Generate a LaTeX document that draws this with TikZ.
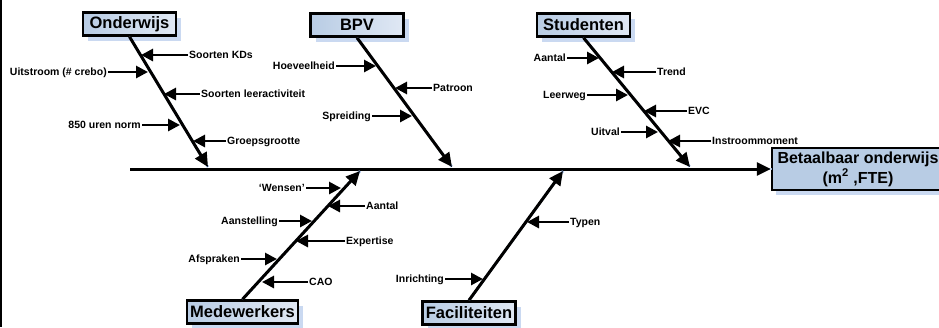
\documentclass[tikz,border=0pt]{standalone}
\usepackage{fontspec}
\setmainfont{Liberation Sans}
\usetikzlibrary{arrows.meta}
\usetikzlibrary{shadows}

\definecolor{boxblue}{RGB}{184,204,228}
\definecolor{boxlight}{RGB}{224,232,244}
\definecolor{shadeblue}{RGB}{150,180,228}

\tikzset{
    cause/.style={draw, line width=2.5pt, left color=boxblue, right color=boxlight,
        font=\bfseries\fontsize{16.5}{18}\selectfont, minimum width=93pt,
        minimum height=23pt, inner xsep=3pt, inner ysep=0pt,
        drop shadow={shadow xshift=5pt, shadow yshift=-5pt, fill=shadeblue, opacity=0.5}},
    effect/.style={draw, line width=2.5pt, fill=boxblue, align=center,
        font=\bfseries\fontsize{16}{20}\selectfont, minimum width=172pt,
        minimum height=42pt, inner xsep=2pt,
        drop shadow={shadow xshift=4pt, shadow yshift=-5pt, fill=shadeblue, opacity=0.5}},
    bone/.style={line width=3pt, -{Triangle[length=14pt,width=13pt]}},
    sub/.style={line width=2.8pt, -{Triangle[length=12pt,width=12pt]}},
    lbl/.style={font=\bfseries\fontsize{10.5}{12}\selectfont, inner sep=1pt,
        text height=7.5pt, text depth=0pt},
    ghost/.style={draw=shadeblue, line width=2.5pt, densely dotted}
}

\begin{document}
\begin{tikzpicture}[x=1pt,y=-1pt]

    \useasboundingbox (0,0) rectangle (939,327);
    \clip (0,0) rectangle (939,327);

    \draw[line width=2pt] (1,0) -- (1,327);

    % effect and spine

    \node[effect] (result) at (858,169) {Betaalbaar onderwijs\\(m\textsuperscript{2} ,FTE)};
    \coordinate (tail) at (130,169);

    \draw[ghost, shift={(3,6)}] (tail) -- (result.west);
    \draw[bone] (tail) -- (result.west);

    % Onderwijs

    \node[cause] (onderwijs) at (129.5,24) {Onderwijs};
    \coordinate (o-end) at (208,167);
    \draw[ghost, shift={(4,3)}] (onderwijs.south) -- (o-end);
    \draw[bone] (onderwijs.south) -- (o-end);

    \node[lbl, anchor=west] (kds) at (188,55) {Soorten KDs};
    \coordinate (t-kds) at (141,55);
    \draw[sub] (kds) -- (t-kds);

    \node[lbl, anchor=east] (uitstroom) at (108,72) {Uitstroom (\# crebo)};
    \coordinate (t-uitstroom) at (148,72);
    \draw[sub] (uitstroom) -- (t-uitstroom);

    \node[lbl, anchor=west] (leeract) at (200,94) {Soorten leeractiviteit};
    \coordinate (t-leeract) at (164,94);
    \draw[sub] (leeract) -- (t-leeract);

    \node[lbl, anchor=east] (norm) at (142,125) {850 uren norm};
    \coordinate (t-norm) at (180,125);
    \draw[sub] (norm) -- (t-norm);

    \node[lbl, anchor=west] (groep) at (226,141) {Groepsgrootte};
    \coordinate (t-groep) at (193,141);
    \draw[sub] (groep) -- (t-groep);

    % BPV

    \node[cause] (bpv) at (357,25) {BPV};
    \coordinate (b-end) at (452,167);
    \draw[ghost, shift={(4,3)}] (bpv.south) -- (b-end);
    \draw[bone] (bpv.south) -- (b-end);

    \node[lbl, anchor=east] (hoeveel) at (336,66) {Hoeveelheid};
    \coordinate (t-hoeveel) at (376,66);
    \draw[sub] (hoeveel) -- (t-hoeveel);

    \node[lbl, anchor=west] (patroon) at (432,88) {Patroon};
    \coordinate (t-patroon) at (395,88);
    \draw[sub] (patroon) -- (t-patroon);

    \node[lbl, anchor=east] (spreiding) at (372,116) {Spreiding};
    \coordinate (t-spreiding) at (412,116);
    \draw[sub] (spreiding) -- (t-spreiding);

    % Studenten

    \node[cause] (studenten) at (583.5,25) {Studenten};
    \coordinate (s-end) at (690,167);
    \draw[ghost, shift={(4,3)}] (studenten.south) -- (s-end);
    \draw[bone] (studenten.south) -- (s-end);

    \node[lbl, anchor=east] (aantal-s) at (567,58) {Aantal};
    \coordinate (t-aantal-s) at (599,58);
    \draw[sub] (aantal-s) -- (t-aantal-s);

    \node[lbl, anchor=west] (trend) at (656,72) {Trend};
    \coordinate (t-trend) at (612,72);
    \draw[sub] (trend) -- (t-trend);

    \node[lbl, anchor=east] (leerweg) at (587,95) {Leerweg};
    \coordinate (t-leerweg) at (628,95);
    \draw[sub] (leerweg) -- (t-leerweg);

    \node[lbl, anchor=west] (evc) at (687,111) {EVC};
    \coordinate (t-evc) at (644,111);
    \draw[sub] (evc) -- (t-evc);

    \node[lbl, anchor=east] (uitval) at (621,132) {Uitval};
    \coordinate (t-uitval) at (658,132);
    \draw[sub] (uitval) -- (t-uitval);

    \node[lbl, anchor=west] (instroom) at (711,141) {Instroommoment};
    \coordinate (t-instroom) at (668,141);
    \draw[sub] (instroom) -- (t-instroom);

    % Medewerkers

    \node[cause] (medewerkers) at (242.5,312) {Medewerkers};
    \coordinate (m-end) at (360,171);
    \draw[ghost, shift={(6,2)}] (medewerkers.north) -- (m-end);
    \draw[bone] (medewerkers.north) -- (m-end);

    \node[lbl, anchor=east] (wensen) at (306,188) {‘Wensen’};
    \coordinate (t-wensen) at (341,188);
    \draw[sub] (wensen) -- (t-wensen);

    \node[lbl, anchor=west] (aantal-m) at (365,206) {Aantal};
    \coordinate (t-aantal-m) at (328,206);
    \draw[sub] (aantal-m) -- (t-aantal-m);

    \node[lbl, anchor=east] (aanstelling) at (279,221) {Aanstelling};
    \coordinate (t-aanstelling) at (312,221);
    \draw[sub] (aanstelling) -- (t-aanstelling);

    \node[lbl, anchor=west] (expertise) at (345,241) {Expertise};
    \coordinate (t-expertise) at (296,241);
    \draw[sub] (expertise) -- (t-expertise);

    \node[lbl, anchor=east] (afspraken) at (241,259) {Afspraken};
    \coordinate (t-afspraken) at (277,259);
    \draw[sub] (afspraken) -- (t-afspraken);

    \node[lbl, anchor=west] (cao) at (308,282) {CAO};
    \coordinate (t-cao) at (262,282);
    \draw[sub] (cao) -- (t-cao);

    % Faciliteiten

    \node[cause] (faciliteiten) at (469,313) {Faciliteiten};
    \coordinate (f-end) at (563,171);
    \draw[ghost, shift={(6,2)}] (faciliteiten.north) -- (f-end);
    \draw[bone] (faciliteiten.north) -- (f-end);

    \node[lbl, anchor=west] (typen) at (569,222) {Typen};
    \coordinate (t-typen) at (527,222);
    \draw[sub] (typen) -- (t-typen);

    \node[lbl, anchor=east] (inrichting) at (445,279) {Inrichting};
    \coordinate (t-inrichting) at (483,279);
    \draw[sub] (inrichting) -- (t-inrichting);

\end{tikzpicture}
\end{document}
